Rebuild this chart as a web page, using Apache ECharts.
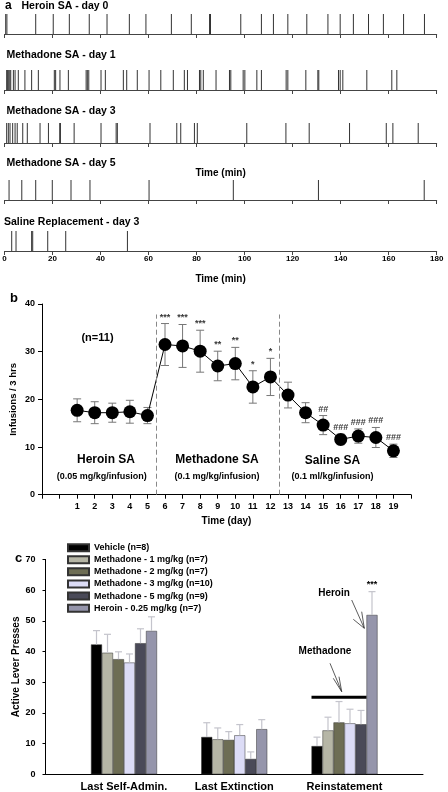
<!DOCTYPE html>
<html>
<head>
<meta charset="utf-8">
<script src="https://cdn.jsdelivr.net/npm/echarts@6/dist/echarts.min.js"></script>
<style>html,body{margin:0;padding:0;background:#fff}#c{width:448px;height:792px}</style>
</head>
<body>
<div id="c"></div>
<script>
// ---------- DATA ----------
// Panel a: infusion event times (min)
const rasterTitles = ['Heroin SA - day 0', 'Methadone SA - day 1', 'Methadone SA - day 3', 'Methadone SA - day 5', 'Saline Replacement - day 3'];
const heroinDay0 = [0.5, 1.0, 13.0, 20.3, 27.0, 35.3, 42.7, 52.0, 58.9, 69.5, 77.8, 85.4, 85.8, 98.4, 107.0, 112.0, 118.0, 125.9, 134.7, 139.8, 145.3, 151.6, 157.8, 166.2, 174.9];
const methDay1 = [0.9, 1.3, 1.75, 2.2, 2.6, 3.7, 4.4, 5.75, 8.5, 11.3, 14.1, 20.75, 21.3, 23.1, 26.6, 34.0, 34.5, 35.1, 40.2, 42.0, 49.5, 50.9, 55.3, 60.2, 65.1, 70.3, 74.9, 76.2, 81.2, 81.75, 82.8, 88.1, 93.7, 94.25, 99.4, 100.1, 105.1, 107.0, 117.3, 118.0, 125.5, 130.5, 130.9, 139.1, 139.8, 140.9, 150.9, 161.3, 163.4];
const methDay3 = [0.9, 1.6, 2.3, 3.4, 4.4, 5.3, 7.6, 9.5, 14.8, 18.3, 23.0, 23.3, 29.0, 40.2, 46.5, 47.0, 60.6, 71.75, 73.4, 79.1, 80.3, 100.9, 117.2, 126.9, 143.7, 159.0, 161.75, 172.3];
const methDay5 = [1.9, 7.2, 13.0, 19.9, 27.7, 35.6, 60.2, 95.3, 130.75, 174.8];
const salineDay3 = [3.0, 4.8, 11.3, 11.75, 18.0, 25.5, 51.2];
const rasterEvents = [heroinDay0, methDay1, methDay3, methDay5, salineDay3];

// Panel b: infusions per session
const days = [1, 2, 3, 4, 5, 6, 7, 8, 9, 10, 11, 12, 13, 14, 15, 16, 17, 18, 19];
const infusions = [17.7, 17.2, 17.2, 17.4, 16.6, 31.5, 31.2, 30.1, 27.0, 27.5, 22.6, 24.7, 20.9, 17.2, 14.6, 11.6, 12.3, 12.0, 9.2];
const infusionSEM = [2.4, 2.3, 2.0, 2.4, 1.7, 4.4, 4.5, 4.4, 3.1, 3.4, 3.4, 3.9, 2.7, 2.1, 2.0, 1.1, 1.5, 2.1, 1.4];
const sigMarks = ['', '', '', '', '', '***', '***', '***', '**', '**', '*', '*', '', '', '##', '###', '###', '###', '###'];
const phaseBoundaries = [5.5, 12.5];
const boundaryTop = 37.8;

// Panel c: active lever presses
const phases = ['Last Self-Admin.', 'Last Extinction', 'Reinstatement'];
const groupNames = ['Vehicle (n=8)', 'Methadone - 1 mg/kg (n=7)', 'Methadone - 2 mg/kg (n=7)', 'Methadone - 3 mg/kg (n=10)', 'Methadone - 5 mg/kg (n=9)', 'Heroin - 0.25 mg/kg (n=7)'];
const vehicle = [42.3, 12.15, 9.2];
const meth1 = [39.6, 11.4, 14.3];
const meth2 = [37.5, 11.2, 16.9];
const meth3 = [36.4, 12.7, 16.6];
const meth5 = [42.7, 5.0, 16.3];
const heroin = [46.7, 14.7, 51.9];
const vehicleErr = [4.5, 4.65, 2.9];
const meth1Err = [6.0, 3.7, 4.3];
const meth2Err = [2.4, 2.7, 6.8];
const meth3Err = [2.8, 3.5, 4.6];
const meth5Err = [4.7, 2.3, 4.5];
const heroinErr = [4.6, 3.1, 7.6];
const heroinSig = ['', '', '***'];
const methBracket = [2, 25.1];

// ---------- STYLE ----------
const FF = '"Liberation Sans", Arial, Helvetica, sans-serif';
const groupColors = ['#000000', '#b6b6a6', '#6d6d54', '#dcdcf6', '#4a4a58', '#9595ab'];
const BAR_W = 11;

const chart = echarts.init(document.getElementById('c'), null, {renderer: 'canvas'});

const rowTops = [14, 70, 123, 180, 231];
const grids = rowTops.map(t => ({left: 4.5, right: 11.3, top: t, height: 20, outerBoundsMode: 'none'}));
grids.push({left: 42, right: 37, top: 304, height: 190.7, outerBoundsMode: 'none'});
grids.push({left: 45.5, right: 25, top: 559.4, height: 214.9, outerBoundsMode: 'none'});

const xAxes = [], yAxes = [], series = [];
rowTops.forEach((t, i) => {
  const ax = {
    type: 'value', gridIndex: i, min: 0, max: 180, interval: 20,
    axisLine: {onZero: false, lineStyle: {color: '#444', width: 1}},
    axisTick: {show: true, length: 4, lineStyle: {color: '#444', width: 1}},
    axisLabel: {show: i === 4, fontSize: 8, fontWeight: 'bold', color: '#000', margin: 4, fontFamily: FF},
    splitLine: {show: false}
  };
  if (i === 2 || i === 4) {
    ax.name = 'Time (min)';
    ax.nameLocation = 'middle';
    ax.nameGap = i === 2 ? 25 : 23;
    ax.nameMoveOverlap = false;
    ax.nameTextStyle = {fontSize: 10, fontWeight: 'bold', color: '#000', fontFamily: FF};
  }
  xAxes.push(ax);
  yAxes.push({type: 'value', gridIndex: i, min: 0, max: 1, show: false});
  series.push({
    type: 'custom', xAxisIndex: i, yAxisIndex: i,
    data: rasterEvents[i].map(v => [v]),
    encode: {x: 0},
    renderItem: function (params, api) {
      const a = api.coord([api.value(0), 0]);
      const b = api.coord([api.value(0), 1]);
      return {type: 'line', shape: {x1: a[0], y1: a[1], x2: b[0], y2: b[1]}, style: {stroke: '#333', lineWidth: 1}};
    }
  });
});

// Panel b axes
xAxes.push({
  type: 'value', gridIndex: 5, min: -1, max: 20, interval: 1,
  axisLine: {onZero: false, lineStyle: {color: '#000'}},
  axisTick: {length: 4, lineStyle: {color: '#000'}},
  axisLabel: {fontSize: 9, fontWeight: 'bold', color: '#000', margin: 7, fontFamily: FF,
    formatter: v => (v >= 1 && v <= 19) ? String(v) : ''},
  splitLine: {show: false},
  name: 'Time (day)', nameLocation: 'middle', nameGap: 22, nameMoveOverlap: false,
  nameTextStyle: {fontSize: 10, fontWeight: 'bold', color: '#000', fontFamily: FF}
});
yAxes.push({
  type: 'value', gridIndex: 5, min: 0, max: 40, interval: 10,
  axisLine: {show: true, onZero: false, lineStyle: {color: '#000'}},
  axisTick: {show: true, length: 4, lineStyle: {color: '#000'}},
  axisLabel: {fontSize: 9, fontWeight: 'bold', color: '#000', margin: 7, fontFamily: FF},
  splitLine: {show: false},
  name: 'Infusions / 3 hrs', nameLocation: 'middle', nameGap: 24, nameMoveOverlap: false,
  nameTextStyle: {fontSize: 9.5, fontWeight: 'bold', color: '#000', fontFamily: FF}
});

// Panel c axes
xAxes.push({
  type: 'value', gridIndex: 6, min: -0.712, max: 2.712,
  axisLine: {onZero: false, lineStyle: {color: '#000'}},
  axisTick: {show: false},
  axisLabel: {customValues: [0, 1, 2], fontSize: 11, fontWeight: 'bold', color: '#000', margin: 7, fontFamily: FF,
    formatter: v => phases[Math.round(v)] || ''},
  splitLine: {show: false}
});
yAxes.push({
  type: 'value', gridIndex: 6, min: 0, max: 70, interval: 10,
  axisLine: {show: true, onZero: false, lineStyle: {color: '#000'}},
  axisTick: {show: true, length: 3, lineStyle: {color: '#000'}},
  axisLabel: {fontSize: 9, fontWeight: 'bold', color: '#000', margin: 10, fontFamily: FF},
  splitLine: {show: false},
  name: 'Active Lever Presses', nameLocation: 'middle', nameGap: 24, nameMoveOverlap: false,
  nameTextStyle: {fontSize: 10, fontWeight: 'bold', color: '#000', fontFamily: FF}
});

// Panel b series
series.push({
  type: 'custom', xAxisIndex: 5, yAxisIndex: 5, z: 1,
  data: days.map((d, i) => [d, infusions[i], infusionSEM[i]]),
  encode: {x: 0, y: 1},
  renderItem: function (params, api) {
    const d = api.value(0), v = api.value(1), e = api.value(2);
    const lo = api.coord([d, v - e]), hi = api.coord([d, v + e]);
    const st = {stroke: '#777', lineWidth: 1};
    return {type: 'group', children: [
      {type: 'line', shape: {x1: lo[0], y1: lo[1], x2: hi[0], y2: hi[1]}, style: st},
      {type: 'line', shape: {x1: lo[0] - 4, y1: lo[1], x2: lo[0] + 4, y2: lo[1]}, style: st},
      {type: 'line', shape: {x1: hi[0] - 4, y1: hi[1], x2: hi[0] + 4, y2: hi[1]}, style: st}
    ]};
  }
});
series.push({
  type: 'line', xAxisIndex: 5, yAxisIndex: 5, z: 3,
  data: days.map((d, i) => [d, infusions[i]]),
  symbol: 'circle', symbolSize: 13,
  itemStyle: {color: '#000'}, lineStyle: {color: '#000', width: 1},
  markLine: {
    silent: true, symbol: 'none', label: {show: false},
    lineStyle: {color: '#888', type: [5, 3], width: 1},
    data: phaseBoundaries.map(x => [{coord: [x, 0]}, {coord: [x, boundaryTop]}])
  }
});
series.push({
  type: 'scatter', xAxisIndex: 5, yAxisIndex: 5, z: 4, symbolSize: 0,
  data: days.map((d, i) => [d, infusions[i] + infusionSEM[i]]),
  label: {show: true, position: 'top', distance: 2, fontSize: 9, fontWeight: 'bold', color: '#000', fontFamily: FF,
    formatter: p => sigMarks[p.dataIndex]}
});

// Panel c series
const groupValues = [vehicle, meth1, meth2, meth3, meth5, heroin];
const groupErrs = [vehicleErr, meth1Err, meth2Err, meth3Err, meth5Err, heroinErr];
groupValues.forEach((vals, k) => {
  series.push({
    type: 'bar', name: groupNames[k], xAxisIndex: 6, yAxisIndex: 6,
    data: vals.map((v, p) => [p, v]),
    barWidth: BAR_W, barGap: '0%',
    itemStyle: {color: groupColors[k], borderColor: '#333', borderWidth: 0.5}
  });
});
const errData = [];
groupValues.forEach((vals, k) => vals.forEach((v, p) => errData.push([p, v, groupErrs[k][p], k])));
series.push({
  type: 'custom', xAxisIndex: 6, yAxisIndex: 6, z: 5,
  data: errData, encode: {x: 0, y: 1},
  renderItem: function (params, api) {
    const p = api.value(0), v = api.value(1), e = api.value(2), k = api.value(3);
    const base = api.coord([p, v]), top = api.coord([p, v + e]);
    const x = base[0] + (k - (groupValues.length - 1) / 2) * BAR_W;
    const st = {stroke: '#c4c4cc', lineWidth: 1.2};
    const children = [
      {type: 'line', shape: {x1: x, y1: base[1], x2: x, y2: top[1]}, style: st},
      {type: 'line', shape: {x1: x - 3.5, y1: top[1], x2: x + 3.5, y2: top[1]}, style: st}
    ];
    if (k === 5 && heroinSig[p]) {
      children.push({type: 'text', style: {text: heroinSig[p], x: x, y: top[1] - 3, align: 'center', verticalAlign: 'bottom',
        font: 'bold 9px ' + FF, fill: '#000'}});
    }
    return {type: 'group', children: children};
  }
});
series.push({
  type: 'custom', xAxisIndex: 6, yAxisIndex: 6, z: 6,
  data: [methBracket], encode: {x: 0, y: 1},
  renderItem: function (params, api) {
    const c = api.coord([api.value(0), api.value(1)]);
    return {type: 'rect', shape: {x: c[0] - 3 * BAR_W, y: c[1] - 1.5, width: 5 * BAR_W, height: 3}, style: {fill: '#000'}};
  }
});

// ---------- TEXT / ANNOTATIONS ----------
function txt(text, x, y, size, align) {
  return {type: 'text', silent: true, style: {text: text, x: x, y: y, font: 'bold ' + size + 'px ' + FF,
    fill: '#000', align: align || 'left', verticalAlign: 'middle'}};
}
function ln(x1, y1, x2, y2) {
  return {type: 'line', silent: true, shape: {x1, y1, x2, y2}, style: {stroke: '#333', lineWidth: 0.8}};
}
const titleX = [21.5, 6.5, 6.5, 6.5, 4];
const titleY = [6, 55, 111, 163.3, 221.7];
const graphics = [txt('a', 5, 6, 12)];
rasterTitles.forEach((t, i) => graphics.push(txt(t, titleX[i], titleY[i], 10.5)));
graphics.push(
  txt('b', 10, 298, 13),
  txt('(n=11)', 97.5, 338, 11, 'center'),
  txt('Heroin SA', 106, 459.3, 12, 'center'),
  txt('(0.05 mg/kg/infusion)', 101.7, 477, 9, 'center'),
  txt('Methadone SA', 217, 460, 12, 'center'),
  txt('(0.1 mg/kg/infusion)', 217, 477, 9, 'center'),
  txt('Saline SA', 332.5, 461, 12, 'center'),
  txt('(0.1 ml/kg/infusion)', 332.5, 477, 9, 'center'),
  txt('c', 15, 558, 13),
  txt('Heroin', 334, 593, 10, 'center'),
  txt('Methadone', 325, 651.7, 10, 'center'),
  ln(351.7, 600, 364.3, 628.3), ln(353.3, 619.3, 364.3, 628.3), ln(361.7, 611.7, 364.3, 628.3),
  ln(330, 663.3, 341.7, 691.7), ln(333.3, 678.3, 341.7, 691.7), ln(339, 676.7, 341.7, 691.7)
);

chart.setOption({
  animation: false,
  backgroundColor: '#fff',
  textStyle: {fontFamily: FF},
  grid: grids,
  xAxis: xAxes,
  yAxis: yAxes,
  legend: {
    data: groupNames, orient: 'vertical', left: 67, top: 541.6, padding: 0,
    itemWidth: 21, itemHeight: 7, itemGap: 0, icon: 'rect', selectedMode: false,
    textStyle: {fontSize: 9, fontWeight: 'bold', color: '#000', lineHeight: 12.1, fontFamily: FF}
  },
  graphic: graphics,
  series: series
});
</script>
</body>
</html>
